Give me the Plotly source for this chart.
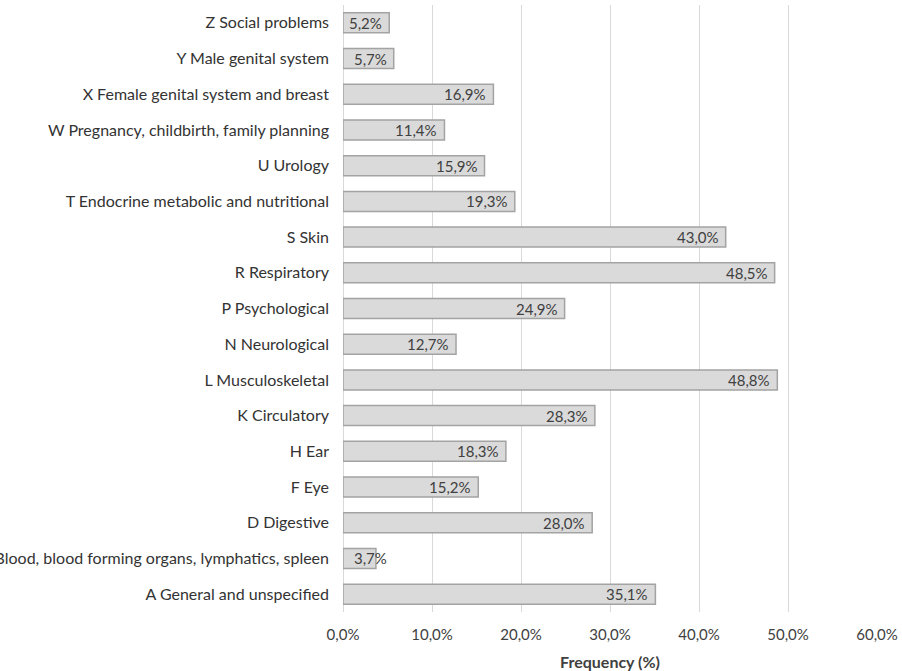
import plotly.graph_objects as go

categories = [
    "A General and unspecified",
    "B Blood, blood forming organs, lymphatics, spleen",
    "D Digestive",
    "F Eye",
    "H Ear",
    "K Circulatory",
    "L Musculoskeletal",
    "N Neurological",
    "P Psychological",
    "R Respiratory",
    "S Skin",
    "T Endocrine metabolic and nutritional",
    "U Urology",
    "W Pregnancy, childbirth, family planning",
    "X Female genital system and breast",
    "Y Male genital system",
    "Z Social problems",
]
frequency = [35.1, 3.7, 28.0, 15.2, 18.3, 28.3, 48.8, 12.7, 24.9, 48.5,
             43.0, 19.3, 15.9, 11.4, 16.9, 5.7, 5.2]

FONT = "Lato"
TEXT = "#404040"

fig = go.Figure(go.Bar(
    y=categories,
    x=frequency,
    orientation="h",
    marker=dict(color="#dadada", line=dict(color="#a3a3a3", width=1.5)),
    hoverinfo="skip",
))

# value labels at the inner end of each bar
for cat, val in zip(categories, frequency):
    label = f"{val:.1f}%".replace(".", ",")
    fig.add_annotation(
        x=val, y=cat, text=label, showarrow=False,
        xanchor="right", yanchor="middle",
        xshift=-5 if val > 5 else 13,
        font=dict(family=FONT, size=15, color=TEXT),
    )

fig.update_layout(
    width=902, height=671,
    margin=dict(l=343, r=25, t=5, b=59),
    plot_bgcolor="white", paper_bgcolor="white",
    separators=",.",
    bargap=0.44,
    showlegend=False,
    font=dict(family=FONT, size=15, color=TEXT),
    xaxis=dict(
        range=[0, 60], dtick=10, tickformat=".1f", ticksuffix="%",
        showgrid=True, gridcolor="#d9d9d9", gridwidth=1.3,
        zeroline=True, zerolinecolor="#d9d9d9", zerolinewidth=1.3,
        showline=False, ticks="", automargin=False,
        ticklabelstandoff=12,
        tickfont=dict(family=FONT, size=15, color=TEXT),
        title=dict(text="<b>Frequency (%)</b>", standoff=14,
                   font=dict(family=FONT, size=16, color=TEXT)),
    ),
    yaxis=dict(
        categoryorder="array", categoryarray=categories,
        showgrid=False, showline=False, ticks="", automargin=False,
        ticklabelstandoff=13,
        tickfont=dict(family=FONT, size=16, color="#333333"),
    ),
)

fig.write_html("out.html")
